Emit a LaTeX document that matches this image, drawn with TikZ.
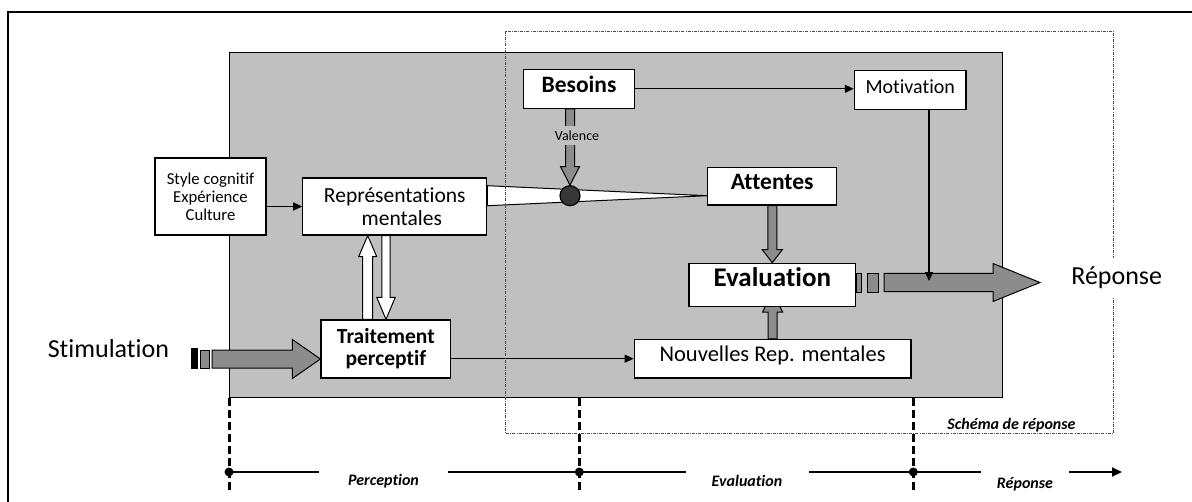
\documentclass[tikz,border=0pt]{standalone}
\usepackage{fontspec}
\setmainfont[Ligatures=NoCommon]{Carlito}
\usetikzlibrary{arrows.meta,calc}

\definecolor{panelgray}{RGB}{192,192,192}
\definecolor{flowgray}{RGB}{140,140,140}
\definecolor{hubgray}{RGB}{55,55,55}

\tikzset{
  box/.style={draw, line width=1.2pt, fill=white, inner sep=0pt, text height=0.64em, text depth=0pt},
  mbox/.style={draw, line width=1.2pt, fill=white, inner sep=0pt, align=center},
  conn/.style={line width=1.3pt, -{Triangle[length=9pt,width=8pt]}},
  block/.style={draw, line width=1pt, fill=flowgray, line join=miter},
  hollow/.style={fill=white},
  phase/.style={font=\fontsize{16}{18}\selectfont\bfseries\itshape, fill=white, inner sep=0pt, minimum height=28pt},
  tick/.style={line width=3pt, dash pattern=on 8pt off 4pt},
  schema/.style={line width=0.8pt, black!70, dash pattern=on 3pt off 1.2pt on 0.8pt off 1.2pt},
}

% horizontal block arrow from #2 to tip #3: shaft half-width #4, head half-width #5, head length #6
\newcommand\hblock[6][]{%
  \draw[block,#1] let \p1=(#2), \p2=(#3) in
    (\x1,{\y2+#4}) -- ({\x2-#6},{\y2+#4}) -- ({\x2-#6},{\y2+#5}) -- (\x2,\y2)
    -- ({\x2-#6},{\y2-#5}) -- ({\x2-#6},{\y2-#4}) -- (\x1,{\y2-#4}) -- cycle;}
% vertical block arrow from #2 to tip #3; #6 is the signed offset of the head base from the tip
\newcommand\vblock[6][]{%
  \draw[block,#1] let \p1=(#2), \p2=(#3) in
    ({\x2+#4},\y1) -- ({\x2+#4},{\y2+#6}) -- ({\x2+#5},{\y2+#6}) -- (\x2,\y2)
    -- ({\x2-#5},{\y2+#6}) -- ({\x2-#4},{\y2+#6}) -- ({\x2-#4},\y1) -- cycle;}

\begin{document}
\begin{tikzpicture}[x=1pt,y=-1pt]
\useasboundingbox (0,0) rectangle (1192,501);
\fill[white] (0,0) rectangle (1192,501);

% outer frame
\draw[line width=2pt] (8,510) -- (8,12) -- (1200,12);

% grey processing panel
\node[draw, line width=1.3pt, fill=panelgray, inner sep=0pt, anchor=north west,
      minimum width=773pt, minimum height=345pt] (panel) at (229,52) {};

% boxes
\node[mbox, minimum width=111pt, minimum height=77pt, font=\fontsize{16.7}{18}\selectfont]
  (style) at (210.5,196.5) {Style cognitif\\Expérience\\Culture};
\node[mbox, minimum width=184pt, minimum height=57pt, font=\fontsize{21.5}{22.7}\selectfont]
  (repr) at (394.8,206.5) {Représentations\\\hspace*{14pt}mentales};
\node[mbox, minimum width=129.7pt, minimum height=58pt, font=\fontsize{21.5}{22}\selectfont\bfseries]
  (trait) at (385.85,349) {Traitement\\perceptif};
\node[box, minimum width=111.4pt, minimum height=39pt, font=\fontsize{23.5}{26}\selectfont\bfseries]
  (bes) at (579,88.8) {Besoins};
\node[box, minimum width=111.7pt, minimum height=38.6pt, font=\fontsize{20}{24}\selectfont]
  (mot) at (910.2,90) {Motivation};
\node[box, minimum width=129pt, minimum height=37.7pt, font=\fontsize{23.5}{26}\selectfont\bfseries]
  (att) at (772.2,186.2) {Attentes};
\node[box, minimum width=276.7pt, minimum height=38.7pt, font=\fontsize{22.5}{26}\selectfont]
  (nouv) at (772.6,358.7) {Nouvelles Rep. mentales};

% rising flow into the evaluation box (its head disappears behind the box)
\coordinate (uptip) at (772.6,292);
\vblock{nouv.north}{uptip}{4.5pt}{10pt}{(-20pt)};

\node[draw, line width=1.2pt, fill=white, inner sep=0pt, minimum width=166.7pt, minimum height=43.4pt]
  (eval) at (772.3,285) {};
\node[anchor=base, inner sep=0pt, font=\fontsize{27}{30}\selectfont\bfseries]
  (evaltxt) at (772.3,286.7) {Evaluation};

\vblock{att.south}{eval.north}{4.5pt}{10pt}{13pt};

% thin connectors
\draw[conn] (style.east |- repr.west) -- (repr.west);
\draw[conn] (bes.east) -- (bes.east -| mot.west);
\draw[conn] (trait.east |- nouv.west) -- (nouv.west);

% exchange between perception and mental representations
\coordinate (upx) at (367.7,0);
\coordinate (dnx) at (386,0);
\vblock[hollow]{trait.north -| upx}{repr.south -| upx}{5pt}{9pt}{(-21pt)};
\vblock[hollow]{repr.south -| dnx}{trait.north -| dnx}{4.2pt}{9.2pt}{22pt};

% junction of representations, needs and expectations
\coordinate (hubc) at (570,195.7);
\draw[line width=1pt, fill=white] ($(repr.east |- hubc)+(0,-10)$) -- (att.west |- hubc)
  -- ($(repr.east |- hubc)+(0,10)$) -- cycle;
\node[circle, draw, line width=1.2pt, fill=hubgray, minimum size=20pt, inner sep=0pt] (hub) at (hubc) {};
\vblock{bes.south -| hub}{hub.north}{4.5pt}{9.5pt}{18.5pt};
\node[anchor=base, fill=panelgray, inner xsep=1pt, inner ysep=4.5pt, font=\fontsize{14}{16}\selectfont]
  (val) at (577,140) {Valence};

% stimulation input
\node[font=\fontsize{26}{30}\selectfont, inner sep=0pt] (stim) at (108.4,349) {Stimulation};
\fill[black] (191,348) rectangle (198,369);
\draw[block] (200,350) rectangle (209,368);
\coordinate (stimtail) at (212,359);
\hblock{stimtail}{trait.west |- stimtail}{9pt}{19.5pt}{28pt};

% response output
\draw[block] (856,273) rectangle (861,292);
\draw[block] (867,273) rectangle (878,292);
\coordinate (evtail) at (884,282.5);
\coordinate (evtip) at (1040,282.5);
\hblock{evtail}{evtip}{9.2pt}{19pt}{47pt};
\coordinate (motin) at (929,281);
\draw[conn] (mot.south -| motin) -- (motin);

% response schema frame
\draw[schema] (505.5,31) rectangle (1113.3,433.3);
\node[anchor=base, fill=white, inner xsep=3pt, inner ysep=9pt, font=\fontsize{26}{30}\selectfont]
  (rep) at (1116.7,284.3) {Réponse};
\node[anchor=base, inner sep=0pt, font=\fontsize{16}{18}\selectfont\bfseries\itshape]
  (schlbl) at (1011.5,429.3) {Schéma de réponse};

% time line
\coordinate (t0) at (229,472);
\coordinate (t1) at (579.3,472);
\coordinate (t2) at (913.3,472);
\coordinate (tend) at (1122,472);
\coordinate (tickbot) at (0,491);
\draw[tick] (t0 |- panel.south) -- (t0 |- tickbot);
\draw[tick] (t1 |- panel.south) -- (t1 |- tickbot);
\draw[tick] (t2 |- panel.south) -- (t2 |- tickbot);
\draw[line width=2pt, -{Triangle[length=10pt,width=9pt]}] (t0) -- (tend);
\fill (t0) circle (4.5pt);
\fill (t1) circle (4.5pt);
\fill (t2) circle (4.5pt);
\node[phase, minimum width=129pt, anchor=base] (ph1) at (383.5,485.7) {Perception};
\node[phase, minimum width=123pt, anchor=base] (ph2) at (747,486.7) {Evaluation};
\node[phase, minimum width=88pt, anchor=base] (ph3) at (1025,488) {Réponse};
\end{tikzpicture}
\end{document}
